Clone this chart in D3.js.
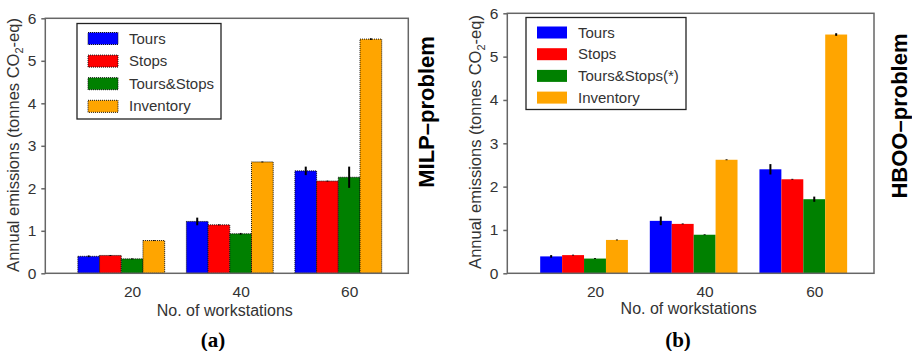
<!DOCTYPE html>
<html>
<head>
<meta charset="utf-8">
<script src="https://cdn.jsdelivr.net/npm/d3@7"></script>
<style>
  body { margin: 0; background: #fff; }
  text { font-family: "Liberation Sans", Arial, sans-serif; fill: #333; }
</style>
</head>
<body>
<div id="chart"></div>
<script>
var svgWidth = 912;
var svgHeight = 351;

// data
var workstations = ["20", "40", "60"];
var seriesColors = ["#0000ff", "#ff0000", "#008000", "#ffa500"];

var milpNames = ["Tours", "Stops", "Tours&Stops", "Inventory"];
var milpTours = [0.40, 1.22, 2.41];
var milpStops = [0.42, 1.14, 2.17];
var milpBoth = [0.34, 0.93, 2.26];
var milpInventory = [0.77, 2.62, 5.51];
var milpErrTours = [0.02, 0.09, 0.10];
var milpErrStops = [0.01, 0.01, 0.01];
var milpErrBoth = [0.01, 0.02, 0.25];
var milpErrInventory = [0.01, 0.01, 0.02];

var hbooNames = ["Tours", "Stops", "Tours&Stops(*)", "Inventory"];
var hbooTours = [0.39, 1.21, 2.40];
var hbooStops = [0.42, 1.14, 2.17];
var hbooBoth = [0.34, 0.89, 1.71];
var hbooInventory = [0.77, 2.62, 5.51];
var hbooErrTours = [0.03, 0.10, 0.12];
var hbooErrStops = [0.01, 0.01, 0.01];
var hbooErrBoth = [0.01, 0.01, 0.06];
var hbooErrInventory = [0.01, 0.01, 0.03];

var yTicks = [0, 1, 2, 3, 4, 5, 6];
var barWidth = 0.2;

var svg = d3.select("#chart")
  .append("svg")
  .attr("width", svgWidth)
  .attr("height", svgHeight);

function drawPanel(opt) {
  var x = d3.scaleLinear().domain([-0.3, 3.045]).range([opt.left, opt.right]);
  var y = d3.scaleLinear().domain([0, 6]).range([opt.bottom, opt.top]);
  var g = svg.append("g");

  // bars
  opt.values.forEach(function(vals, s) {
    var rows = vals.map(function(v, i) { return { i: i, v: v, e: opt.errors[s][i] }; });
    g.selectAll(null)
      .data(rows)
      .enter()
      .append("rect")
      .attr("x", d => x(d.i + s * barWidth))
      .attr("y", d => y(d.v))
      .attr("width", x(barWidth) - x(0))
      .attr("height", d => y(0) - y(d.v))
      .attr("fill", seriesColors[s])
      .attr("stroke", opt.dotted ? "#111" : "none")
      .attr("stroke-width", 1)
      .attr("stroke-dasharray", opt.dotted ? "1,1" : null);

    g.selectAll(null)
      .data(rows)
      .enter()
      .append("line")
      .attr("x1", d => x(d.i + (s + 0.5) * barWidth))
      .attr("x2", d => x(d.i + (s + 0.5) * barWidth))
      .attr("y1", d => y(d.v - d.e))
      .attr("y2", d => y(d.v + d.e))
      .attr("stroke", "#000")
      .attr("stroke-width", 2);
  });

  // frame
  g.append("rect")
    .attr("x", opt.left)
    .attr("y", opt.top)
    .attr("width", opt.right - opt.left)
    .attr("height", opt.bottom - opt.top)
    .attr("fill", "none")
    .attr("stroke", "#666")
    .attr("stroke-width", 1.5);

  // y axis
  var yAxis = g.append("g")
    .attr("transform", `translate(${opt.left},0)`)
    .call(d3.axisLeft(y).tickValues(yTicks).tickSize(4).tickPadding(5).tickFormat(d3.format("d")));
  yAxis.select(".domain").remove();
  yAxis.selectAll("line").attr("stroke", "#666").attr("stroke-width", 1.5);
  yAxis.selectAll("text").style("font-size", "15.5px").attr("fill", "#333");

  // x axis labels (ticks sit at group start + 2.5 bar widths)
  var xAxis = g.append("g")
    .attr("transform", `translate(0,${opt.bottom})`)
    .call(d3.axisBottom(x)
      .tickValues(workstations.map((w, i) => i + 2.5 * barWidth))
      .tickFormat((d, i) => workstations[i])
      .tickSize(0).tickPadding(13));
  xAxis.select(".domain").remove();
  xAxis.selectAll("text").style("font-size", "15.5px").attr("fill", "#333");

  // axis titles
  g.append("text")
    .attr("x", (opt.left + opt.right) / 2 - 2)
    .attr("y", opt.xTitleY)
    .attr("text-anchor", "middle")
    .style("font-size", "16px")
    .text("No. of workstations");

  var yt = g.append("text")
    .attr("transform", `translate(${opt.yTitleX},${opt.yTitleMid}) rotate(-90)`)
    .attr("text-anchor", "middle")
    .style("font-size", "16.5px");
  yt.append("tspan").text("Annual emissions (tonnes CO");
  yt.append("tspan").attr("dy", 4).style("font-size", "11px").text("2");
  yt.append("tspan").attr("dy", -4).text("-eq)");

  // legend
  var lg = g.append("g");
  lg.append("rect")
    .attr("x", opt.legend.x)
    .attr("y", opt.legend.y)
    .attr("width", opt.legend.w)
    .attr("height", opt.legend.h)
    .attr("fill", "#fff")
    .attr("stroke", "#222")
    .attr("stroke-width", 1.3);
  opt.names.forEach(function(name, s) {
    var cy = opt.legend.y + 15 + s * opt.legend.step;
    lg.append("rect")
      .attr("x", opt.legend.x + 11)
      .attr("y", cy - 6)
      .attr("width", 30)
      .attr("height", 12)
      .attr("fill", seriesColors[s])
      .attr("stroke", opt.dotted ? "#111" : "none")
      .attr("stroke-dasharray", opt.dotted ? "1,1" : null);
    lg.append("text")
      .attr("x", opt.legend.x + 52)
      .attr("y", cy + 5)
      .style("font-size", "15px")
      .text(name);
  });

  // side label
  svg.append("text")
    .attr("transform", `translate(${opt.sideX},${opt.sideMid}) rotate(-90)`)
    .attr("text-anchor", "middle")
    .style("font-size", "22px")
    .style("font-weight", "bold")
    .style("fill", "#000")
    .text(opt.side);

  // panel caption
  svg.append("text")
    .attr("x", opt.capX)
    .attr("y", 347)
    .attr("text-anchor", "middle")
    .style("font-family", "'Liberation Serif', 'Times New Roman', serif")
    .style("font-size", "21px")
    .style("font-weight", "bold")
    .style("fill", "#000")
    .text(opt.caption);
}

drawPanel({
  left: 45.3, right: 408.3, top: 18.3, bottom: 273.3,
  values: [milpTours, milpStops, milpBoth, milpInventory],
  errors: [milpErrTours, milpErrStops, milpErrBoth, milpErrInventory],
  names: milpNames,
  dotted: true,
  xTitleY: 316,
  yTitleX: 19, yTitleMid: 145,
  legend: { x: 77, y: 23.5, w: 144, h: 95.5, step: 22.6 },
  side: "MILP\u2013problem", sideX: 434, sideMid: 112,
  caption: "(a)", capX: 213
});

drawPanel({
  left: 507.3, right: 874, top: 13.3, bottom: 273.3,
  values: [hbooTours, hbooStops, hbooBoth, hbooInventory],
  errors: [hbooErrTours, hbooErrStops, hbooErrBoth, hbooErrInventory],
  names: hbooNames,
  dotted: false,
  xTitleY: 314,
  yTitleX: 481, yTitleMid: 142,
  legend: { x: 526, y: 17.5, w: 160, h: 92, step: 21.7 },
  side: "HBOO\u2013problem", sideX: 907, sideMid: 116,
  caption: "(b)", capX: 678
});
</script>
</body>
</html>
